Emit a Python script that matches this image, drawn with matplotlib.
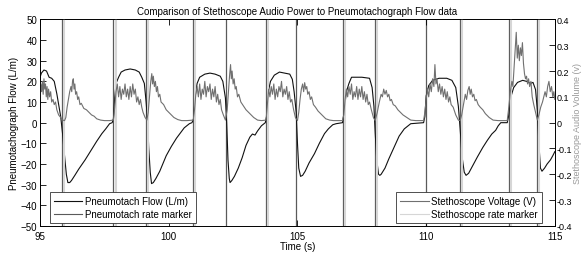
import matplotlib
matplotlib.use("Agg")
import matplotlib.pyplot as plt

plt.rcParams['font.family'] = ['Liberation Sans', 'DejaVu Sans']
plt.rcParams['font.size'] = 7

# pneumotach flow (L/m)
flow_t = [95.0, 95.05, 95.15, 95.25, 95.35, 95.45, 95.55, 95.65, 95.72, 95.8, 95.87, 95.95, 96.02, 96.08,
          96.15, 96.22, 96.35, 96.5, 96.75, 97.0, 97.2, 97.4, 97.55, 97.7, 97.8,
          97.85, 97.9, 97.95, 98.05, 98.15, 98.3, 98.5, 98.7, 98.85, 98.95, 99.05, 99.12, 99.18, 99.22,
          99.28, 99.33, 99.4, 99.5, 99.65, 99.9, 100.1, 100.3, 100.43, 100.6, 100.8, 100.9,
          100.97, 101.02, 101.1, 101.2, 101.4, 101.6, 101.8, 102.0, 102.1, 102.2, 102.25,
          102.3, 102.35, 102.38, 102.45, 102.55, 102.7, 102.85, 103.0, 103.15, 103.25, 103.35, 103.45,
          103.6, 103.75, 103.8, 103.85, 103.95, 104.1, 104.3, 104.5, 104.7, 104.8, 104.87,
          104.95, 105.0, 105.05, 105.12, 105.2, 105.3, 105.45, 105.66, 105.85, 106.05, 106.2,
          106.37, 106.5, 106.75, 106.8, 106.9, 107.0, 107.1, 107.5, 107.8, 107.9, 107.97, 108.02,
          108.08, 108.15, 108.2, 108.25, 108.4, 108.55, 108.76, 108.95, 109.15, 109.3, 109.4,
          109.9, 109.95, 110.0, 110.1, 110.25, 110.5, 110.8, 111.0, 111.15, 111.25, 111.32, 111.4,
          111.48, 111.55, 111.65, 111.8, 111.99, 112.2, 112.38, 112.55, 112.7, 112.8, 112.9,
          113.15, 113.2, 113.28, 113.4, 113.55, 113.75, 113.9, 114.05, 114.15, 114.25, 114.32, 114.38,
          114.44, 114.5, 114.6, 114.7, 114.83, 114.92, 115.0]
flow = [22, 24, 25.5, 25, 22, 21.5, 20, 14, 9, 3, -5, -16, -25, -29,
        -29, -28, -25.5, -22.5, -18, -13, -9, -5.3, -3, -0.5, 0,
        2, 12, 19, 22, 24.5, 25.5, 26, 25.5, 24.5, 22, 19, 10, 0, -12,
        -24, -29.5, -29, -27, -23.5, -16, -11.5, -7.5, -5.3, -2.5, -0.5, 0,
        2, 12, 19, 22, 23.5, 24, 23.5, 22.5, 20, 12, 0,
        -18, -27, -29, -28, -26, -22, -17, -11, -7, -5.5, -6, -4,
        -1.5, 0, 3, 14, 20, 23, 24.5, 24, 23.5, 21, 15,
        5, -10, -22, -26, -25.5, -23.5, -19.5, -15, -10, -5.3, -3,
        -1, -0.5, 0, 4, 15, 19, 22, 22, 21.5, 17, 8, -5,
        -18, -25, -25.5, -25, -22, -17.5, -11.7, -6.5, -3, -1.5, -0.5,
        0, 3, 13, 18, 20.5, 21.5, 21.5, 20.5, 17, 8, -3, -17,
        -24, -25.5, -24.5, -21, -16.6, -12, -8.5, -5.5, -3.7, -1.5, 0,
        0, 3, 12, 17, 19.5, 20.5, 20, 19, 19.5, 16, 6, -10,
        -22, -23.5, -22, -20, -18, -16, -14]

# stethoscope voltage (V)
steth_t = [95.0, 95.03, 95.06, 95.09, 95.12, 95.15, 95.18, 95.21, 95.24, 95.27, 95.3, 95.33, 95.37, 95.41,
           95.45, 95.5, 95.55, 95.6, 95.65, 95.72, 95.8, 95.88, 95.95, 96.0, 96.05, 96.1, 96.15, 96.2,
           96.23, 96.26, 96.29, 96.32, 96.35, 96.38, 96.42, 96.46, 96.5, 96.55, 96.6, 96.7, 96.8, 96.9,
           97.0, 97.1, 97.2, 97.35, 97.5, 97.7, 97.85, 97.9, 97.95, 98.0, 98.05, 98.1, 98.15, 98.2,
           98.25, 98.3, 98.35, 98.4, 98.45, 98.5, 98.55, 98.6, 98.65, 98.7, 98.75, 98.8, 98.85, 98.9,
           98.95, 99.0, 99.08, 99.15, 99.2, 99.25, 99.3, 99.34, 99.37, 99.4, 99.44, 99.48, 99.52,
           99.56, 99.6, 99.65, 99.7, 99.8, 99.9, 100.0, 100.1, 100.2, 100.35, 100.5, 100.7, 100.95,
           101.0, 101.05, 101.1, 101.15, 101.2, 101.25, 101.3, 101.35, 101.4, 101.45, 101.5, 101.55,
           101.6, 101.65, 101.7, 101.75, 101.8, 101.85, 101.9, 101.95, 102.0, 102.05, 102.12, 102.2,
           102.27, 102.32, 102.36, 102.4, 102.43, 102.46, 102.5, 102.54, 102.58, 102.62, 102.67,
           102.72, 102.8, 102.9, 103.0, 103.1, 103.2, 103.3, 103.45, 103.6, 103.78, 103.83, 103.88,
           103.93, 103.98, 104.03, 104.08, 104.13, 104.18, 104.23, 104.28, 104.33, 104.38, 104.43,
           104.48, 104.53, 104.58, 104.63, 104.68, 104.73, 104.78, 104.85, 104.92, 105.0, 105.05,
           105.1, 105.15, 105.2, 105.24, 105.28, 105.32, 105.36, 105.4, 105.45, 105.5, 105.55, 105.62,
           105.7, 105.8, 105.9, 106.0, 106.1, 106.25, 106.4, 106.75, 106.8, 106.85, 106.9, 106.95,
           107.0, 107.05, 107.1, 107.15, 107.2, 107.25, 107.3, 107.35, 107.4, 107.45, 107.5, 107.55,
           107.6, 107.65, 107.7, 107.75, 107.8, 107.87, 107.95, 108.02, 108.1, 108.18, 108.25, 108.3,
           108.35, 108.4, 108.45, 108.5, 108.55, 108.6, 108.65, 108.72, 108.8, 108.9, 109.0, 109.1,
           109.25, 109.4, 109.6, 109.9, 109.95, 110.0, 110.05, 110.1, 110.15, 110.2, 110.25, 110.3,
           110.34, 110.38, 110.42, 110.47, 110.52, 110.57, 110.62, 110.67, 110.72, 110.77, 110.82,
           110.87, 110.92, 110.97, 111.05, 111.15, 111.25, 111.32, 111.38, 111.45, 111.52, 111.57,
           111.62, 111.67, 111.71, 111.75, 111.8, 111.85, 111.9, 111.95, 112.02, 112.1, 112.2, 112.3,
           112.45, 112.6, 112.8, 113.15, 113.2, 113.27, 113.33, 113.37, 113.42, 113.46, 113.5, 113.54,
           113.58, 113.62, 113.66, 113.7, 113.74, 113.78, 113.82, 113.86, 113.9, 113.94, 113.98,
           114.02, 114.07, 114.12, 114.18, 114.25, 114.32, 114.38, 114.45, 114.52, 114.57, 114.62,
           114.67, 114.72, 114.77, 114.82, 114.87, 114.92, 114.96, 115.0]
steth = [0.09, 0.15, 0.12, 0.16, 0.11, 0.17, 0.13, 0.15, 0.10, 0.14, 0.09, 0.13, 0.10, 0.12,
         0.08, 0.09, 0.07, 0.08, 0.05, 0.03, 0.02, 0.01, 0.008, 0.02, 0.06, 0.09, 0.12, 0.14,
         0.12, 0.16, 0.17, 0.13, 0.15, 0.11, 0.12, 0.09, 0.10, 0.07, 0.075, 0.055, 0.05, 0.04,
         0.03, 0.025, 0.015, 0.01, 0.008, 0.008, 0.01, 0.06, 0.12, 0.15, 0.10, 0.14, 0.09, 0.13,
         0.11, 0.15, 0.10, 0.13, 0.09, 0.14, 0.10, 0.15, 0.11, 0.13, 0.08, 0.10, 0.07, 0.09,
         0.06, 0.04, 0.02, 0.01, 0.04, 0.10, 0.16, 0.19, 0.15, 0.18, 0.14, 0.16, 0.12,
         0.14, 0.10, 0.11, 0.08, 0.07, 0.05, 0.04, 0.03, 0.02, 0.012, 0.008, 0.008, 0.01,
         0.05, 0.11, 0.14, 0.10, 0.15, 0.09, 0.13, 0.11, 0.16, 0.10, 0.14, 0.12,
         0.15, 0.09, 0.13, 0.10, 0.14, 0.08, 0.11, 0.07, 0.09, 0.05, 0.03, 0.01,
         0.05, 0.12, 0.18, 0.225, 0.17, 0.20, 0.15, 0.17, 0.13, 0.14, 0.10,
         0.11, 0.08, 0.065, 0.05, 0.04, 0.03, 0.02, 0.01, 0.008, 0.01, 0.07, 0.13,
         0.10, 0.14, 0.11, 0.15, 0.09, 0.13, 0.10, 0.14, 0.12, 0.16, 0.10,
         0.13, 0.11, 0.14, 0.09, 0.12, 0.08, 0.09, 0.05, 0.02, 0.008, 0.04,
         0.09, 0.13, 0.15, 0.12, 0.155, 0.13, 0.14, 0.11, 0.12, 0.09, 0.10, 0.07,
         0.06, 0.045, 0.035, 0.025, 0.015, 0.01, 0.008, 0.008, 0.03, 0.09, 0.13, 0.10,
         0.14, 0.11, 0.15, 0.09, 0.12, 0.10, 0.14, 0.09, 0.13, 0.10, 0.14, 0.09,
         0.12, 0.08, 0.11, 0.07, 0.08, 0.05, 0.02, 0.008, 0.04, 0.08, 0.11, 0.10,
         0.13, 0.11, 0.125, 0.10, 0.11, 0.085, 0.09, 0.07, 0.065, 0.05, 0.04, 0.03,
         0.02, 0.01, 0.008, 0.008, 0.04, 0.09, 0.13, 0.10, 0.15, 0.12, 0.17, 0.14,
         0.225, 0.15, 0.17, 0.12, 0.15, 0.11, 0.14, 0.10, 0.13, 0.09, 0.12,
         0.08, 0.10, 0.07, 0.06, 0.03, 0.01, 0.008, 0.03, 0.07, 0.11, 0.09,
         0.125, 0.14, 0.11, 0.13, 0.10, 0.11, 0.085, 0.09, 0.07, 0.06, 0.05, 0.035,
         0.02, 0.01, 0.008, 0.008, 0.05, 0.12, 0.16, 0.14, 0.22, 0.28, 0.35, 0.25,
         0.30, 0.24, 0.29, 0.26, 0.31, 0.23, 0.19, 0.17, 0.18, 0.15, 0.17,
         0.14, 0.16, 0.10, 0.07, 0.04, 0.01, 0.03, 0.06, 0.08, 0.10, 0.12,
         0.10, 0.14, 0.16, 0.12, 0.14, 0.10, 0.12, 0.09]

# breath rate markers (s)
pneumo_marks = [95.84, 97.85, 99.11, 100.94, 102.21, 103.79, 104.95, 106.78, 108.02, 110.0,
                111.32, 113.22, 114.32]
steth_marks = [95.94, 97.95, 99.19, 101.03, 103.84, 106.84, 108.10, 111.40, 113.31, 114.40]

fig = plt.figure(figsize=(5.81, 2.55), dpi=100)
ax1 = fig.add_axes([0.069, 0.11, 0.886, 0.81])
ax2 = ax1.twinx()

for x in pneumo_marks:
    ax1.axvline(x, color='#5a5a5a', lw=0.9, zorder=1)
ln_flow, = ax1.plot(flow_t, flow, color='#111111', lw=0.8, zorder=3)
mk_p = plt.Line2D([], [], color='#5a5a5a', lw=0.8)

for x in steth_marks:
    ax2.axvline(x, color='#d6d6d6', lw=1.5, zorder=1)
ln_steth, = ax2.plot(steth_t, steth, color='#707070', lw=0.8, zorder=2)
mk_s = plt.Line2D([], [], color='#d6d6d6', lw=0.8)

ax1.set_xlim(95, 115)
ax1.set_ylim(-50, 50)
ax2.set_ylim(-0.4, 0.4)
ax1.set_xticks([95, 100, 105, 110, 115])
ax1.set_yticks(range(-50, 51, 10))
ax2.set_yticks([-0.4, -0.3, -0.2, -0.1, 0, 0.1, 0.2, 0.3, 0.4])
ax2.set_yticklabels(['-0.4', '-0.3', '-0.2', '-0.1', '0', '0.1', '0.2', '0.3', '0.4'])
ax1.tick_params(direction='in', length=4, width=0.6, top=True, labelsize=7, pad=2)
ax1.tick_params(axis='x', pad=3.5)
ax2.tick_params(direction='in', length=4, width=0.6, labelsize=6.5, pad=1.5)
for ax in (ax1, ax2):
    for s in ax.spines.values():
        s.set_linewidth(0.6)

ax1.set_title('Comparison of Stethoscope Audio Power to Pneumotachograph Flow data', fontsize=7, pad=4)
ax1.set_xlabel('Time (s)', fontsize=7, labelpad=0)
ax1.set_ylabel('Pneumotachograph Flow (L/m)', fontsize=7, labelpad=1)
ax2.set_ylabel('Stethoscope Audio Volume (v)', fontsize=6.5, color='#999999', labelpad=0.5)

leg_kw = dict(fontsize=7, fancybox=False, framealpha=1, edgecolor='#333333', handlelength=2.9,
              borderpad=0.4, labelspacing=0.3, handletextpad=0.3, borderaxespad=0)
leg1 = ax2.legend([ln_flow, mk_p], ['Pneumotach Flow (L/m)', 'Pneumotach rate marker'],
                  loc='lower left', bbox_to_anchor=(0.019, 0.015), **leg_kw)
leg1.get_frame().set_linewidth(0.6)
leg1.set_zorder(10)
ax2.add_artist(leg1)
leg2 = ax2.legend([ln_steth, mk_s], ['Stethoscope Voltage (V)', 'Stethoscope rate marker'],
                  loc='lower right', bbox_to_anchor=(0.975, 0.015), **leg_kw)
leg2.get_frame().set_linewidth(0.6)
leg2.set_zorder(10)

fig.savefig('out.png', dpi=100)
